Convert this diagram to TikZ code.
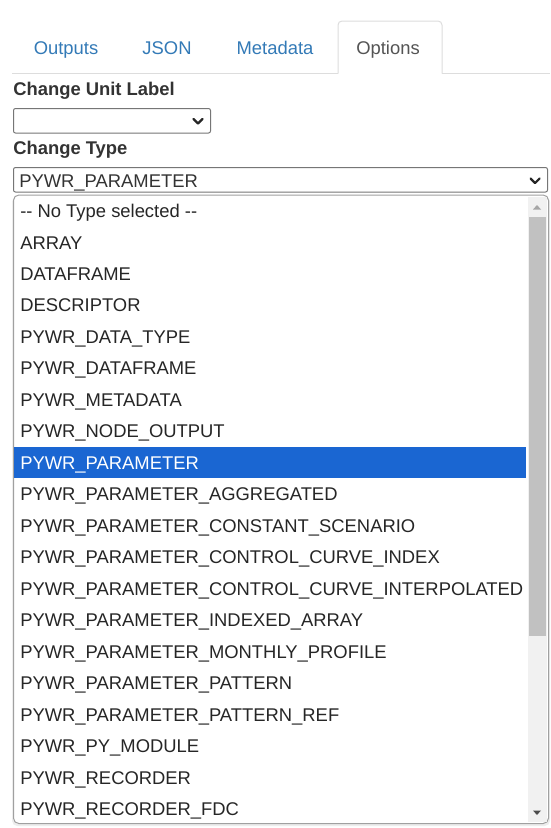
\documentclass[tikz,border=0pt]{standalone}
\usepackage{fontspec}
\setmainfont{Liberation Sans}
\definecolor{tablink}{HTML}{337AB7}
\definecolor{tabgray}{HTML}{DDDDDD}
\definecolor{seltext}{HTML}{333333}
\definecolor{selborder}{HTML}{767676}
\definecolor{listborder}{HTML}{A0A0A0}
\definecolor{pickblue}{RGB}{26,102,210}
\definecolor{track}{HTML}{F1F1F1}
\definecolor{thumb}{HTML}{C1C1C1}

\begin{document}
\begin{tikzpicture}[x=0.75pt,y=-0.75pt]
\tikzstyle{every node}+=[inner sep=0pt, anchor=base west, font=\fontsize{13.8}{16}\selectfont]
\tikzstyle{tabtext}=[text=tablink, anchor=base]
\tikzstyle{selbox}=[draw=selborder, line width=0.75pt, fill=white, rounded corners=1.5pt]
\tikzstyle{chevron}=[draw=black!85, line width=1.6pt, line cap=round, line join=round]
\tikzstyle{item}=[text=black!85]
\useasboundingbox [fill=white] (0,0) rectangle (550,828);

% tab bar
\draw [tabgray, line width=0.75pt] (12,73.5) -- (338,73.5);
\draw [tabgray, line width=0.75pt, rounded corners=3pt] (338,73.5) -- (338,21) -- (442,21) -- (442,73.5);
\draw [tabgray, line width=0.75pt] (442,73.5) -- (550,73.5);
\node [tabtext] (tabOutputs) at (66,54) {Outputs};
\node [tabtext] (tabJson) at (167,54) {JSON};
\node [tabtext] (tabMeta) at (275,54) {Metadata};
\node [tabtext, text=black!67] (tabOptions) at (388,54) {Options};

% unit label select
\node [text=seltext] (unitLabel) at (13,95) {\bfseries Change Unit Label};
\draw [selbox] (13.5,108.5) rectangle (210.5,133);
\draw [chevron] (193.5,119) -- (198,123.5) -- (202.5,119);

% type select
\node [text=seltext] (typeLabel) at (13,154) {\bfseries Change Type};
\draw [selbox] (13.5,167.5) rectangle (547.5,192);
\node [text=seltext] (typeValue) at (19,187) {PYWR\_PARAMETER};
\draw [chevron] (530.5,178.5) -- (535,183) -- (539.5,178.5);

% drop down list
\fill [black!7, rounded corners=4pt] (12,196.5) rectangle (550,826);
\draw [listborder, fill=white, line width=0.75pt, rounded corners=4pt] (13.5,195) rectangle (548.5,823.5);
\fill [track] (527.5,197) rectangle (546.5,821.5);
\fill [thumb] (528.5,217) rectangle (545.5,636);
\fill [black!35] (533,209.5) -- (541,209.5) -- (537,205) -- cycle;
\fill [black!70] (533,810.5) -- (541,810.5) -- (537,815) -- cycle;
\fill [pickblue] (14,447) rectangle (526,478);

\node [item] (item1) at (20,217.5) {-{}- No Type selected -{}-};
\node [item] (item2) at (20,249.0) {ARRAY};
\node [item] (item3) at (20,280.4) {DATAFRAME};
\node [item] (item4) at (20,311.9) {DESCRIPTOR};
\node [item] (item5) at (20,343.4) {PYWR\_DATA\_TYPE};
\node [item] (item6) at (20,374.9) {PYWR\_DATAFRAME};
\node [item] (item7) at (20,406.3) {PYWR\_METADATA};
\node [item] (item8) at (20,437.8) {PYWR\_NODE\_OUTPUT};
\node [item, text=white] (item9) at (20,469.3) {PYWR\_PARAMETER};
\node [item] (item10) at (20,500.7) {PYWR\_PARAMETER\_AGGREGATED};
\node [item] (item11) at (20,532.2) {PYWR\_PARAMETER\_CONSTANT\_SCENARIO};
\node [item] (item12) at (20,563.7) {PYWR\_PARAMETER\_CONTROL\_CURVE\_INDEX};
\node [item] (item13) at (20,595.1) {PYWR\_PARAMETER\_CONTROL\_CURVE\_INTERPOLATED};
\node [item] (item14) at (20,626.6) {PYWR\_PARAMETER\_INDEXED\_ARRAY};
\node [item] (item15) at (20,658.1) {PYWR\_PARAMETER\_MONTHLY\_PROFILE};
\node [item] (item16) at (20,689.6) {PYWR\_PARAMETER\_PATTERN};
\node [item] (item17) at (20,721.0) {PYWR\_PARAMETER\_PATTERN\_REF};
\node [item] (item18) at (20,752.5) {PYWR\_PY\_MODULE};
\node [item] (item19) at (20,784.0) {PYWR\_RECORDER};
\node [item] (item20) at (20,815.4) {PYWR\_RECORDER\_FDC};
\end{tikzpicture}
\end{document}
